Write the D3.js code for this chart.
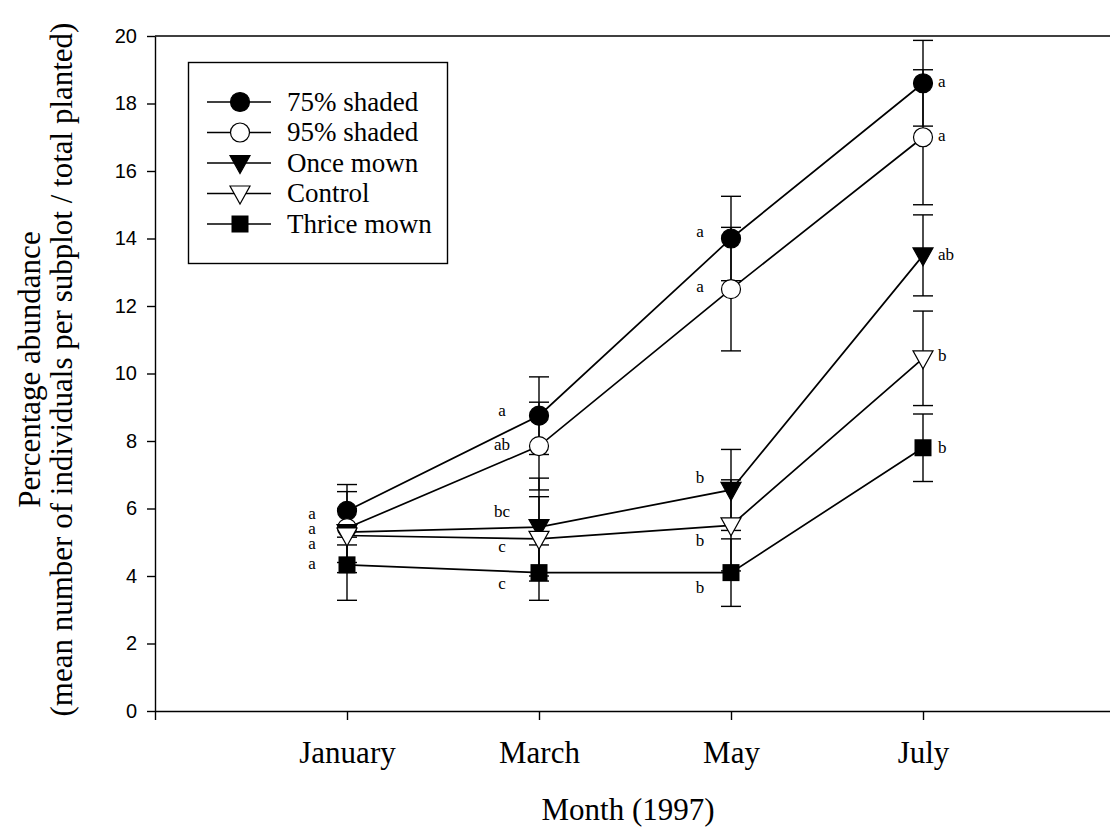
<!DOCTYPE html>
<html>
<head>
<meta charset="utf-8">
<script src="https://cdn.jsdelivr.net/npm/d3@7"></script>
<style>
  body { margin: 0; background: #fff; }
  svg { display: block; }
  .serif { font-family: "Liberation Serif", "Times New Roman", Times, serif; }
  .sans { font-family: "Liberation Sans", Arial, sans-serif; }
</style>
</head>
<body>
<div id="chart"></div>
<script>
// Abundance through 1997 for five treatments (means +/- SE)

const months = ["January", "March", "May", "July"];
const seriesNames = ["75% shaded", "95% shaded", "Once mown", "Control", "Thrice mown"];
const seriesSymbols = ["circle", "circleOpen", "triDown", "triDownOpen", "square"];

const mean75 = [5.93, 8.75, 14.0, 18.6];
const se75 = [0.78, 1.15, 1.25, 1.27];
const mean95 = [5.42, 7.85, 12.5, 17.0];
const se95 = [0.5, 1.3, 1.83, 2.0];
const meanOnce = [5.3, 5.45, 6.55, 13.5];
const seOnce = [1.2, 1.45, 1.2, 1.2];
const meanControl = [5.2, 5.1, 5.5, 10.45];
const seControl = [0.8, 1.25, 1.35, 1.4];
const meanThrice = [4.33, 4.1, 4.1, 7.8];
const seThrice = [1.05, 0.82, 1.0, 1.0];

// significance letters and where they sit (in y units); "" = shares a letter
const letters75 = ["a", "a", "a", "a"];
const letters95 = ["a", "ab", "a", "a"];
const lettersOnce = ["a", "bc", "b", "ab"];
const lettersControl = ["", "c", "b", "b"];
const lettersThrice = ["a", "c", "b", "b"];
const letterY75 = [5.84, 8.9, 14.19, 18.64];
const letterY95 = [5.4, 7.88, 12.56, 17.04];
const letterYOnce = [4.96, 5.9, 6.9, 13.51];
const letterYControl = [4.96, 4.86, 5.04, 10.52];
const letterYThrice = [4.36, 3.76, 3.64, 7.79];

const yTicks = [0, 2, 4, 6, 8, 10, 12, 14, 16, 18, 20];

const means = [mean75, mean95, meanOnce, meanControl, meanThrice];
const ses = [se75, se95, seOnce, seControl, seThrice];
const letters = [letters75, letters95, lettersOnce, lettersControl, lettersThrice];
const letterYs = [letterY75, letterY95, letterYOnce, letterYControl, letterYThrice];

const W = 1110, H = 833;

const svg = d3.select("#chart").append("svg")
    .attr("width", W)
    .attr("height", H);

// x: month slots, one empty slot either side
const x = d3.scaleLinear().domain([0, 5]).range([155, 1115]);
const y = d3.scaleLinear().domain([0, 20]).range([711, 36]);

// top frame line
svg.append("line")
    .attr("x1", x(0)).attr("x2", x(5))
    .attr("y1", y(20)).attr("y2", y(20))
    .attr("stroke", "#000").attr("stroke-width", 1.4);

// y axis
const yAxis = svg.append("g")
    .attr("transform", `translate(${x(0)},0)`)
    .call(d3.axisLeft(y).tickValues(yTicks).tickSize(8).tickSizeOuter(0).tickPadding(10));
yAxis.attr("font-family", null);
yAxis.selectAll("text").attr("class", "sans").attr("font-size", 20).attr("fill", "#000");

// x axis
const xAxis = svg.append("g")
    .attr("transform", `translate(0,${y(0)})`)
    .call(d3.axisBottom(x).tickValues([0, 1, 2, 3, 4, 5]).tickSize(9).tickSizeOuter(0)
        .tickFormat(i => months[i - 1] || "").tickPadding(21));
xAxis.attr("font-family", null);
xAxis.selectAll("text").attr("class", "serif").attr("font-size", 31).attr("fill", "#000");
svg.selectAll(".domain").attr("stroke", "#000").attr("stroke-width", 1.4);
svg.selectAll(".tick line").attr("stroke", "#000").attr("stroke-width", 1.4);

// axis titles
svg.append("text")
    .attr("class", "serif")
    .attr("x", (x(0) + x(5)) / 2 - 7).attr("y", 820)
    .attr("text-anchor", "middle")
    .attr("font-size", 31)
    .text("Month (1997)");

const yTitle = svg.append("text")
    .attr("class", "serif")
    .attr("transform", `translate(0,${(y(0) + y(20)) / 2 - 4}) rotate(-90)`)
    .attr("text-anchor", "middle")
    .attr("font-size", 31);
yTitle.append("tspan").attr("x", 0).attr("y", 40).text("Percentage abundance");
yTitle.append("tspan").attr("x", 0).attr("y", 72).text("(mean number of individuals per subplot / total planted)");

// marker drawing
function drawMarker(g, sym, cx, cy) {
    if (sym === "circle" || sym === "circleOpen") {
        g.append("circle").attr("cx", cx).attr("cy", cy).attr("r", 9.5)
            .attr("fill", sym === "circle" ? "#000" : "#fff")
            .attr("stroke", "#000").attr("stroke-width", 1.2);
    } else if (sym === "triDown" || sym === "triDownOpen") {
        const s = 10;
        g.append("path")
            .attr("d", `M${cx - s},${cy - s * 0.75}L${cx + s},${cy - s * 0.75}L${cx},${cy + s * 1.05}Z`)
            .attr("fill", sym === "triDown" ? "#000" : "#fff")
            .attr("stroke", "#000").attr("stroke-width", 1.2);
    } else {
        g.append("rect").attr("x", cx - 8.5).attr("y", cy - 8.5).attr("width", 17).attr("height", 17)
            .attr("fill", "#000");
    }
}

const plot = svg.append("g");

// error bars first
means.forEach((m, s) => {
    m.forEach((v, i) => {
        const cx = x(i + 1), lo = y(v - ses[s][i]), hi = y(v + ses[s][i]);
        plot.append("line").attr("x1", cx).attr("x2", cx).attr("y1", lo).attr("y2", hi)
            .attr("stroke", "#000").attr("stroke-width", 1.4);
        [lo, hi].forEach(yy => plot.append("line")
            .attr("x1", cx - 10).attr("x2", cx + 10).attr("y1", yy).attr("y2", yy)
            .attr("stroke", "#000").attr("stroke-width", 1.4));
    });
});

// lines
const line = d3.line().x((d, i) => x(i + 1)).y(d => y(d));
means.forEach(m => {
    plot.append("path").attr("d", line(m))
        .attr("fill", "none").attr("stroke", "#000").attr("stroke-width", 1.7);
});

// markers
means.forEach((m, s) => {
    m.forEach((v, i) => drawMarker(plot, seriesSymbols[s], x(i + 1), y(v)));
});

// letters: one text column per month, left of points except July
const letterOffset = [-35, -37, -31, 15];
months.forEach((mName, i) => {
    const col = plot.append("text")
        .attr("class", "serif")
        .attr("text-anchor", i === 3 ? "start" : "middle")
        .attr("font-size", 17);
    letters.forEach((ls, s) => {
        if (!ls[i]) return;
        col.append("tspan")
            .attr("x", x(i + 1) + letterOffset[i])
            .attr("y", y(letterYs[s][i]))
            .attr("dy", "0.3em")
            .text(ls[i]);
    });
});

// legend
const legend = svg.append("g");
legend.append("rect")
    .attr("x", 188.5).attr("y", 62.5).attr("width", 259).attr("height", 201)
    .attr("fill", "#fff").attr("stroke", "#000").attr("stroke-width", 1.4);
seriesNames.forEach((name, s) => {
    const ly = 102 + s * 30.5;
    legend.append("line").attr("x1", 207).attr("x2", 271).attr("y1", ly).attr("y2", ly)
        .attr("stroke", "#000").attr("stroke-width", 1.7);
    drawMarker(legend, seriesSymbols[s], 240, ly);
    legend.append("text")
        .attr("class", "serif")
        .attr("x", 287).attr("y", ly).attr("dy", "0.33em")
        .attr("font-size", 27)
        .text(name);
});
</script>
</body>
</html>
